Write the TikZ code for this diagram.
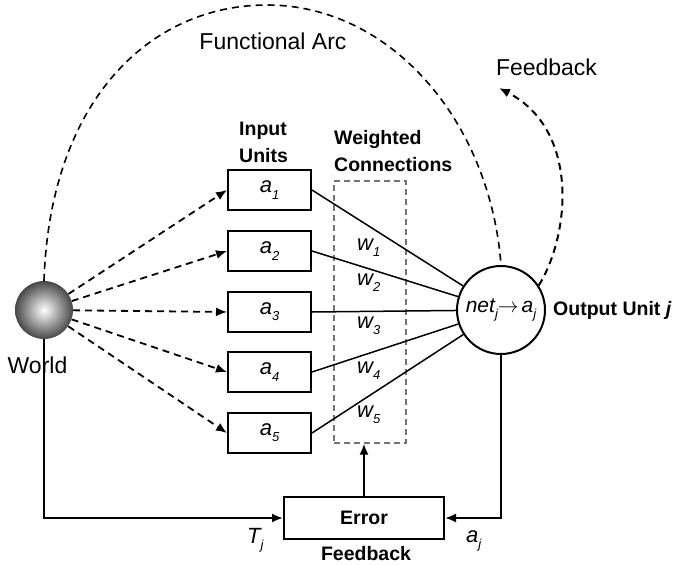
\documentclass[tikz,border=0pt]{standalone}
\usepackage{fontspec}
\setmainfont{Liberation Sans}
\usetikzlibrary{arrows.meta}
\newcommand\sbs[1]{\raisebox{-0.28em}{\fontsize{13}{13}\selectfont\itshape #1}}
\begin{document}
\begin{tikzpicture}[x=1pt,y=-1pt,
  unitbox/.style={draw, line width=2pt, minimum width=83pt, minimum height=40pt, inner sep=0pt, font=\fontsize{22}{24}\selectfont\itshape},
  lbl/.style={inner sep=0pt, font=\fontsize{23}{26}\selectfont},
  blbl/.style={inner sep=0pt, font=\fontsize{19.5}{22}\selectfont\bfseries},
  ilbl/.style={inner sep=0pt, font=\fontsize{22}{24}\selectfont\itshape},
  conn/.style={line width=1.5pt},
  solidarrow/.style={line width=2pt, -{Latex[length=11pt,width=9pt]}},
  dasharrow/.style={line width=1.8pt, dash pattern=on 7pt off 5pt, -{Latex[length=11pt,width=9pt]}},
  arcline/.style={line width=1.6pt, dash pattern=on 7pt off 5pt},
]
\useasboundingbox (0,0) rectangle (675,565);

% world sphere
\node[circle, minimum size=58pt, inner sep=0pt, shading=radial, inner color=white, outer color=black!72] (world) at (44,310) {};
\node[lbl, anchor=base] (worldlbl) at (37.5,373) {World};

% input units
\foreach \i/\y in {1/190,2/251,3/312,4/372,5/433}{
  \node[unitbox] (a\i) at (269.5,\y) {a\sbs{\i}};
}
\node[blbl, anchor=base west] (in1) at (239,135) {Input};
\node[blbl, anchor=base west] (in2) at (239,162) {Units};

% weighted connections box
\node[draw=black!55, line width=1.2pt, dash pattern=on 6pt off 4pt, minimum width=72pt, minimum height=262pt, inner sep=0pt] (wbox) at (370,312) {};
\node[blbl, anchor=base west] (wc1) at (334,144) {Weighted};
\node[blbl, anchor=base west] (wc2) at (334,171) {Connections};

% output unit
\node[circle, draw, line width=2pt, minimum size=88pt, inner sep=0pt, font=\fontsize{21}{24}\selectfont\itshape] (out) at (501,310) {net\sbs{j}$\rightarrow$\hspace{3pt}a\sbs{j}};
\node[blbl, anchor=base west] (outlbl) at (553,315) {Output Unit \textit{j}};

% connections
\foreach \i in {1,...,5}{
  \draw[conn] (a\i.east) -- (out);
  \draw[dasharrow] (world) -- (a\i.west);
}
\foreach \i/\y in {1/250,2/285,3/328,4/373,5/417}{
  \node[ilbl, anchor=base west] (w\i) at (357,\y) {w\sbs{\i}};
}

% error feedback
\node[draw, line width=2pt, minimum width=160pt, minimum height=42pt, inner sep=0pt, font=\fontsize{19.5}{22}\selectfont\bfseries] (err) at (364,518) {Error};
\node[blbl, anchor=base] (fblbl) at (366,560) {Feedback};
\draw[solidarrow] (world.south) |- (err.west);
\draw[solidarrow] (out.south) |- (err.east);
\draw[solidarrow] (err.north) -- (err.north |- wbox.south);
\node[ilbl, anchor=base west] (tj) at (247,543) {T\sbs{j}};
\node[ilbl, anchor=base west] (aj) at (466,542) {a\sbs{j}};

% functional arc
\coordinate (arctop) at (267,5);
\draw[arcline] (world.north) .. controls (50,100) and (150,5) .. (arctop) .. controls (390,5) and (490,120) .. (out.north);
\node[lbl, anchor=base] (falbl) at (273,49) {Functional Arc};

% feedback arc
\coordinate (fbtip) at (499,88);
\draw[arcline, line width=2pt, -{Latex[length=11pt,width=9pt]}] (out.33) .. controls (570,235) and (580,130) .. (fbtip);
\node[lbl, anchor=base] (fbtop) at (546.5,75) {Feedback};
\end{tikzpicture}
\end{document}
